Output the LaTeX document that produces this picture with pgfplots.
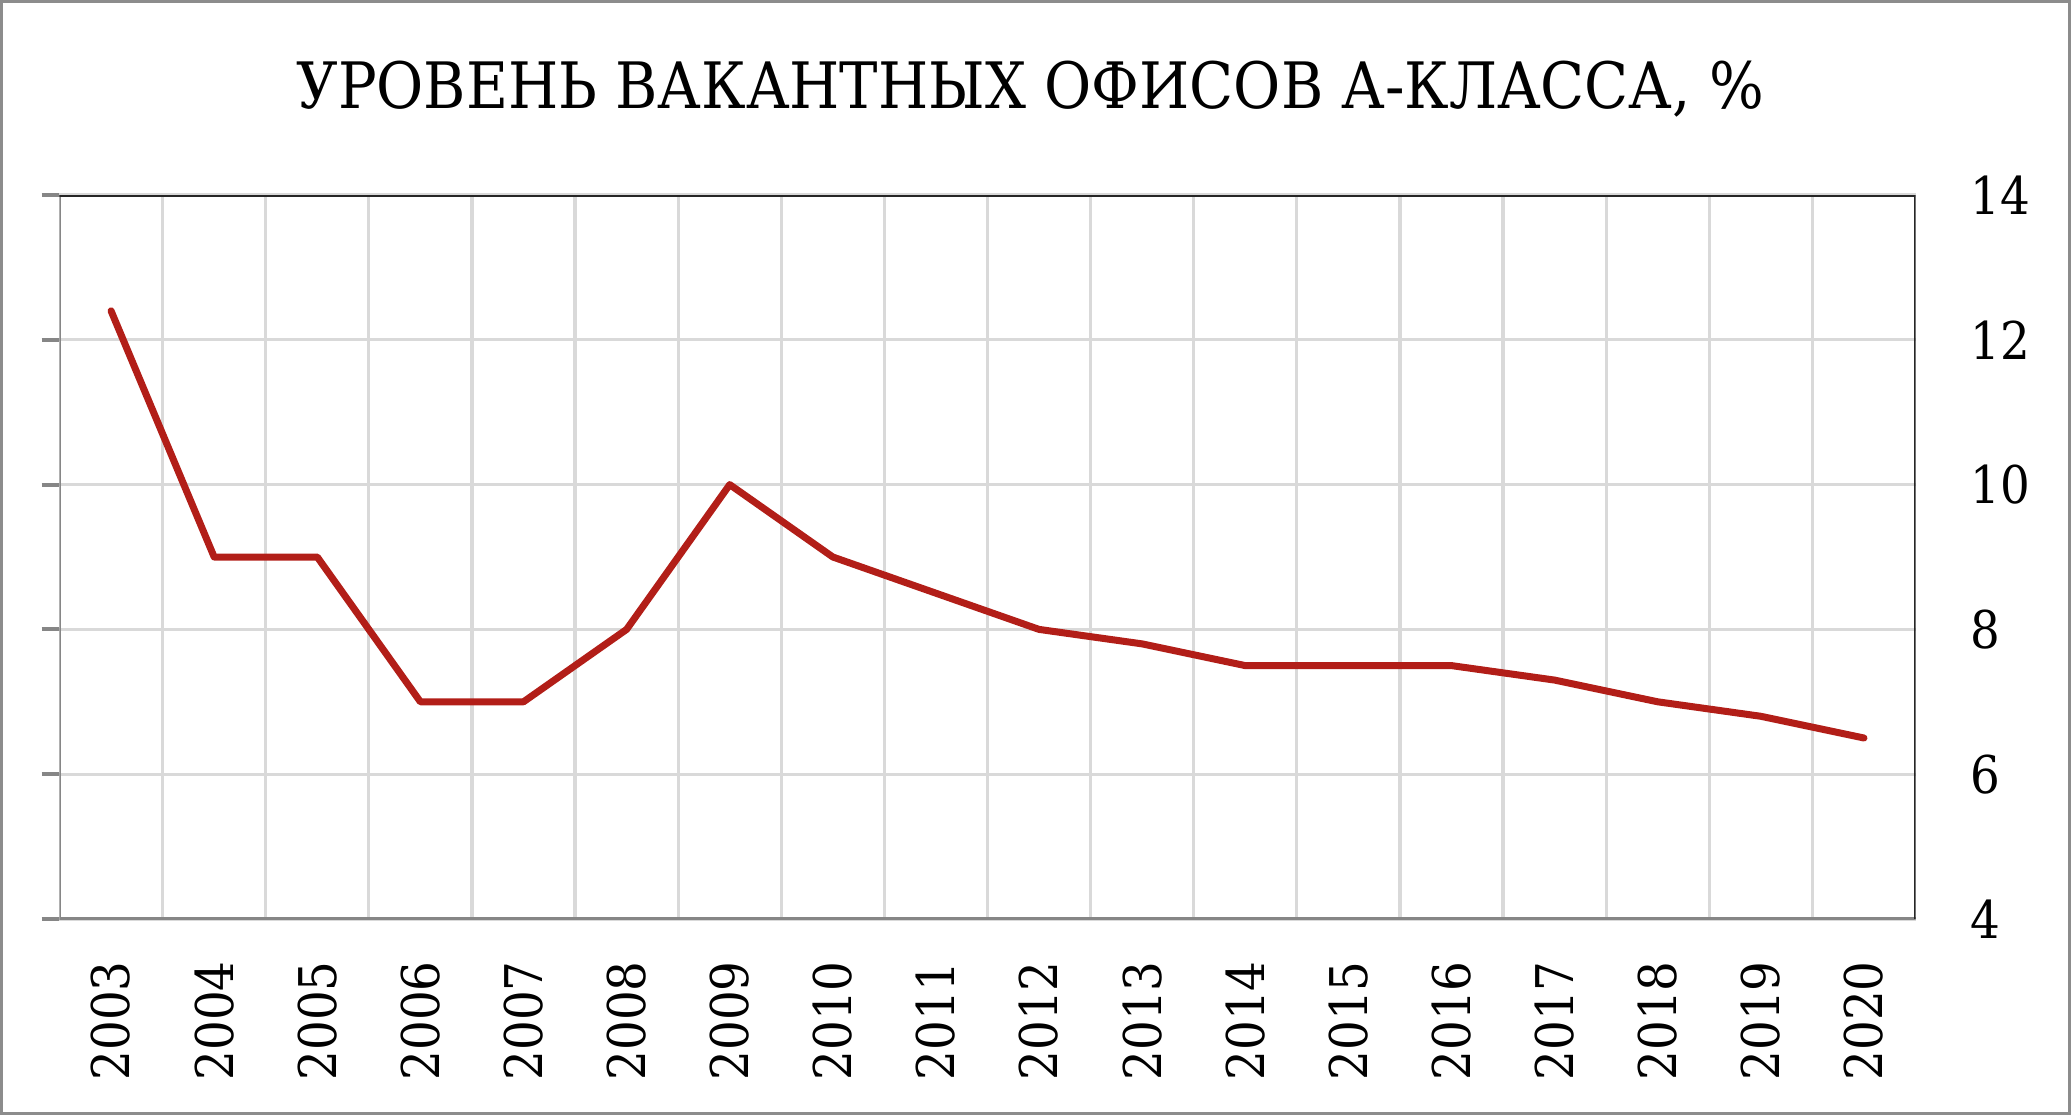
\documentclass[border=0pt]{standalone}
\usepackage{pgfplots}
\pgfplotsset{compat=1.18}
\usepackage{fontspec}
\setmainfont{DejaVu Serif Condensed}
\definecolor{linered}{RGB}{178,30,24}
\definecolor{gridgray}{RGB}{217,217,217}
\definecolor{axisgray}{RGB}{134,134,134}
\definecolor{framegray}{RGB}{140,140,140}

\begin{document}
\begin{tikzpicture}
\path[use as bounding box] (-29.75pt,-98pt) rectangle (1006.25pt,459.5pt);
\draw[framegray, line width=1.5pt] (-28.75pt,-97pt) rectangle (1004.75pt,458.5pt);
\begin{axis}[
    width=928pt, height=362pt, scale only axis,
    xmin=-0.5, xmax=17.5, ymin=4, ymax=14,
    xtick={0,...,17},
    xticklabels={2003,2004,2005,2006,2007,2008,2009,2010,2011,2012,2013,2014,2015,2016,2017,2018,2019,2020},
    x tick style={draw=none},
    minor xtick={0.5,1.5,...,16.5},
    xminorgrids=true,
    ytick={4,6,...,14},
    ymajorgrids=true,
    major grid style={gridgray, line width=1.6pt},
    minor grid style={gridgray, line width=1.6pt},
    ytick pos=left, yticklabel pos=right,
    tick align=outside, major tick length=9pt,
    y tick style={axisgray, line width=2pt},
    axis line style={draw=none},
    /pgf/number format/assume math mode=true,
    every tick label/.append style={font=\fontsize{26}{26}\selectfont},
    xticklabel style={rotate=90, anchor=east, inner sep=0pt},
    xticklabel shift=12pt,
    yticklabel style={anchor=west, inner sep=0pt},
    yticklabel shift=18.5pt,
    title={УРОВЕНЬ ВАКАНТНЫХ ОФИСОВ А-КЛАССА, \%},
    title style={at={(0.523,1)}, anchor=base, yshift=37pt, inner sep=0pt,
        font=\fontsize{32}{32}\selectfont},
]
\addplot[linered, line width=3.5pt, line cap=round, line join=round] coordinates {
    (0,12.4) (1,9) (2,9) (3,7) (4,7) (5,8) (6,10) (7,9) (8,8.5)
    (9,8) (10,7.8) (11,7.5) (12,7.5) (13,7.5) (14,7.3) (15,7.0)
    (16,6.8) (17,6.5)
};
\draw[axisgray, line width=2pt] (rel axis cs:0,1) -- (rel axis cs:0,0) -- (rel axis cs:1,0);
\draw[black!85, line width=2pt] (rel axis cs:0,1) -- (rel axis cs:1,1) -- (rel axis cs:1,0);
\end{axis}
\end{tikzpicture}
\end{document}
